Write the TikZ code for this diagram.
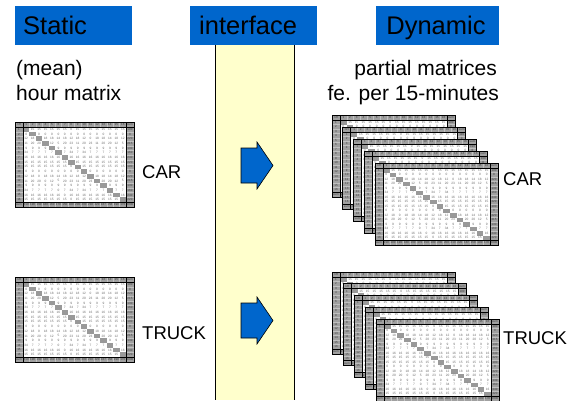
\documentclass[tikz,border=0pt]{standalone}
\usepackage{fontspec}
\setmainfont{Liberation Sans}

\definecolor{hdrblue}{HTML}{0066CC}
\definecolor{colyellow}{HTML}{FFFFCC}
\definecolor{cellgray}{HTML}{A0A0A0}
\definecolor{diaggray}{HTML}{999999}
\definecolor{numgray}{HTML}{6E6E6E}
\definecolor{hdrnumgray}{HTML}{3C3C3C}

\tikzset{
  hdrbox/.style={fill=hdrblue, inner sep=0pt, anchor=north west, minimum height=39pt},
  hdrtext/.style={inner sep=0pt, anchor=base west, text=black,
    font=\fontsize{25.5}{30}\selectfont},
  body/.style={font=\fontsize{21}{25}\selectfont, inner sep=0pt, text=black},
  lbl/.style={font=\fontsize{18.5}{22}\selectfont, inner sep=0pt, anchor=west, text=black},
  flow/.style={fill=hdrblue, draw=black, line width=0.6pt},
  sepline/.style={draw=white!35!cellgray, line width=0.3pt},
  cellnum/.style={font=\fontsize{3.2}{3.4}\selectfont, inner sep=0pt, text=numgray},
  hdrnum/.style={font=\fontsize{3}{3.2}\selectfont, inner sep=0pt, text=hdrnumgray},
  % origin-destination matrix: width #1, height #2, origin at top-left
  pics/odmatrix/.style 2 args={code={
    \pgfmathsetmacro\cw{(#1-16)/16}
    \pgfmathsetmacro\ch{(#2-10)/16}
    \fill[cellgray] (0,0) rectangle (#1,#2);
    \fill[white] (8,5) rectangle ({#1-8},{#2-5});
    \foreach \k in {0,...,15}
      \fill[diaggray] ({8+\k*\cw},{5+\k*\ch}) rectangle ++(\cw,\ch);
    \foreach \k in {1,...,15} {
      \draw[sepline] ({8+\k*\cw},0) -- ++(0,5);
      \draw[sepline] ({8+\k*\cw},{#2}) -- ++(0,-5);
      \draw[sepline] (0,{5+\k*\ch}) -- ++(8,0);
      \draw[sepline] ({#1},{5+\k*\ch}) -- ++(-8,0);
    }
    \foreach \k in {1,...,16} {
      \node[hdrnum] at ({8+(\k-0.5)*\cw},2.5) {\k};
      \node[hdrnum] at (4,{5+(\k-0.5)*\ch}) {\k};
    }
    \foreach \val [count=\k] in {190,0,220,215,130,160,240,220,190,0,220,215,130,160,240,220}
      \node[hdrnum] at ({#1-4},{5+(\k-0.5)*\ch}) {\val};
    \foreach \val [count=\k] in {210,190,190,180,160,170,150,180,200,200,210,220,187,158,190,170}
      \node[hdrnum] at ({8+(\k-0.5)*\cw},{#2-2.5}) {\val};
    \node[hdrnum] at (4,2.5) {nH};
    \node[hdrnum] at ({#1-4},2.5) {sum};
    \node[hdrnum] at (4,{#2-2.5}) {sum};
    \node[hdrnum] at ({#1-4},{#2-2.5}) {2890};
    \foreach \rw/\lst in {
      1/{15,15,15,15,15,15,15,0,15,15,15,15,15,15,15,15},
      2/{0,0,0,0,0,0,0,0,0,0,0,0,0,0,0,0},
      3/{12,18,0,18,18,14,18,12,18,12,0,18,18,14,18,12},
      4/{11,20,20,0,12,5,20,23,11,20,23,11,20,20,12,5},
      5/{9,9,9,9,0,9,9,9,9,9,9,9,9,9,9,9},
      6/{34,7,7,7,7,0,7,34,7,34,7,7,7,7,7,7},
      7/{16,16,16,16,16,16,0,16,16,16,16,16,16,16,16,16},
      8/{15,15,15,15,15,15,15,0,15,15,15,15,15,15,15,15}} {
      \pgfmathtruncatemacro\rwb{\rw+8}
      \foreach \val [count=\cl] in \lst {
        \ifnum\cl=\rw\else
          \node[cellnum] at ({8+(\cl-0.5)*\cw},{5+(\rw-0.5)*\ch}) {\val};
        \fi
        \ifnum\cl=\rwb\else
          \node[cellnum] at ({8+(\cl-0.5)*\cw},{5+(\rwb-0.5)*\ch}) {\val};
        \fi
      }
    }
    \draw[line width=0.7pt] (8,0) -- (8,#2) ({#1-8},0) -- ({#1-8},#2)
      (0,5) -- (#1,5) (0,{#2-5}) -- (#1,{#2-5});
    \draw[line width=1pt] (0,0) rectangle (#1,#2);
  }},
  % block arrow pointing right, origin at top-left of its shaft
  pics/flowarrow/.style={code={
    \draw[flow] (0,0) -- (16,0) -- (16,-6) -- (32,17.5) -- (16,41)
      -- (16,35) -- (0,35) -- cycle;
  }}
}

\begin{document}
\begin{tikzpicture}[x=1pt, y=-1pt]
  \useasboundingbox (0,0) rectangle (571,400);
  \fill[white] (0,0) rectangle (571,400);

  % interface column
  \fill[colyellow] (215,45) rectangle (294,400);
  \draw[line width=1pt] (215,45) -- (215,400) (294,45) -- (294,400);

  % header bars and their titles
  \node[hdrbox, minimum width=117pt] (static) at (15,6) {};
  \node[hdrbox, minimum width=127pt] (interface) at (190,6) {};
  \node[hdrbox, minimum width=123pt] (dynamic) at (376,6) {};
  \node[hdrtext] (statictitle) at (23,34) {\color{black}Static};
  \node[hdrtext] (interfacetitle) at (199,34) {\color{black}interface};
  \node[hdrtext, anchor=base] (dynamictitle) at (436,34) {\color{black}Dynamic};

  % captions
  \node[body, anchor=base west] (mean) at (16,75) {(mean)};
  \node[body, anchor=base west] (hourmatrix) at (16,100) {hour matrix};
  \node[body, anchor=base east] (partial) at (497,75) {partial matrices};
  \node[body, anchor=base east] (perquarter) at (499,100) {fe. per 15-minutes};

  % static hour matrices
  \pic (carstatic) at (15,122) {odmatrix={119}{85}};
  \pic (truckstatic) at (15,277) {odmatrix={119}{85}};
  \node[lbl] (carlabel) at (142,172) {CAR};
  \node[lbl] (trucklabel) at (142,333) {TRUCK};

  % arrows through the interface
  \pic (carflow) at (241,148) {flowarrow};
  \pic (truckflow) at (241,303) {flowarrow};

  % dynamic partial matrices
  \foreach \k in {0,...,4} {
    \pic (cardyn\k) at ({332+10.75*\k},{115+12*\k}) {odmatrix={123}{82}};
  }
  \foreach \k in {0,...,4} {
    \pic (truckdyn\k) at ({332+11*\k},{272+11.75*\k}) {odmatrix={123}{82}};
  }
  \node[lbl] (cardynlabel) at (503,179) {CAR};
  \node[lbl] (truckdynlabel) at (503,338) {TRUCK};
\end{tikzpicture}
\end{document}
